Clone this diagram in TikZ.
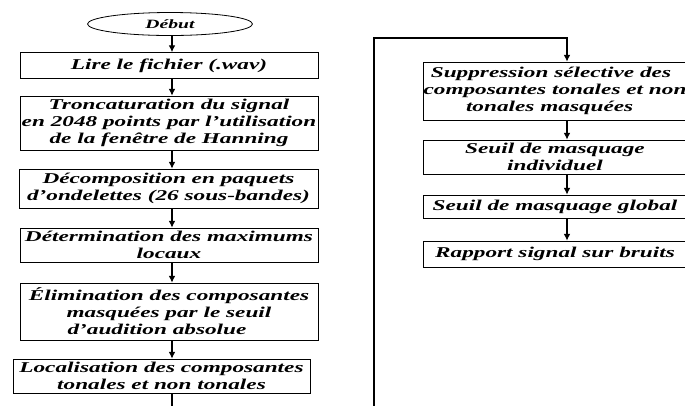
\documentclass[tikz,border=0pt]{standalone}
\usepackage{fontspec}
\setmainfont{Liberation Serif}[FakeStretch=1.55]
\usetikzlibrary{shapes.geometric,arrows.meta}
\tikzset{
	etape/.style={draw, rectangle, line width=.6pt, inner sep=0pt, align=center,
		font=\bfseries\itshape\fontsize{11.25}{12.75}\selectfont},
	terminal/.style={draw, ellipse, line width=.6pt, inner sep=0pt,
		minimum width=123.75pt, minimum height=17.25pt,
		font=\bfseries\itshape\fontsize{9.5}{11}\selectfont},
	fleche/.style={->, line width=.8pt}
}
\begin{document}
\begin{tikzpicture}[x=.75pt, y=-.75pt, >={Latex[length=5pt,width=5pt]}]
	\useasboundingbox (0,0) rectangle (685,405);
	\coordinate (colG) at (172,0); \coordinate (colD) at (567,0);
	% colonne de gauche
	\node[terminal] (debut) at (170,24) {Début};
	\node[etape, minimum width=223.5pt, minimum height=19.5pt] (lire) at (169,65.5) {Lire le fichier (.wav)};
	\node[etape, minimum width=223.5pt, minimum height=40.5pt] (tronc) at (169,123) {Troncaturation du signal\\ en 2048 points par l’utilisation\\ de la fenêtre de Hanning};
	\node[etape, minimum width=224.25pt, minimum height=29.25pt] (decomp) at (168.5,188.5) {Décomposition en paquets\\ d’ondelettes (26 sous-bandes)};
	\node[etape, minimum width=223.5pt, minimum height=25.5pt] (maxi) at (169,245) {Détermination des maximums\\ locaux};
	\node[etape, minimum width=223.5pt, minimum height=42.75pt] (elim) at (169,311.5) {Élimination des composantes\\ masquées par le seuil\\ d’audition absolue\hspace*{18pt}};
	\node[etape, minimum width=222.75pt, minimum height=25.5pt] (local) at (161.5,376) {Localisation des composantes\\ tonales et non tonales};
	% colonne de droite
	\node[etape, minimum width=198pt, minimum height=43.5pt] (suppr) at (555,91) {Suppression sélective des\hspace*{6pt}\\ composantes tonales et non\\ tonales masquées\hspace*{8pt}};
	\node[etape, minimum width=198pt, minimum height=25.5pt] (indiv) at (555,157) {Seuil de masquage\\ individuel};
	\node[etape, minimum width=198pt, minimum height=17.25pt] (global) at (555,206.5) {Seuil de masquage global};
	\node[etape, minimum width=198pt, minimum height=19.5pt] (rsb) at (555,254) {Rapport signal sur bruits};
	% liaisons
	\foreach \a/\b in {debut/lire, lire/tronc, tronc/decomp, decomp/maxi, maxi/elim, elim/local}
		\draw[fleche] (\a.south -| colG) -- (\b.north -| colG);
	\foreach \a/\b in {suppr/indiv, indiv/global, global/rsb}
		\draw[fleche] (\a.south -| colD) -- (\b.north -| colD);
	\coordinate (bas) at (374,420); \coordinate (haut) at (374,38);
	\draw[fleche] (local.south -| colG) |- (bas) -- (haut) -| (suppr.north -| colD);
\end{tikzpicture}
\end{document}
